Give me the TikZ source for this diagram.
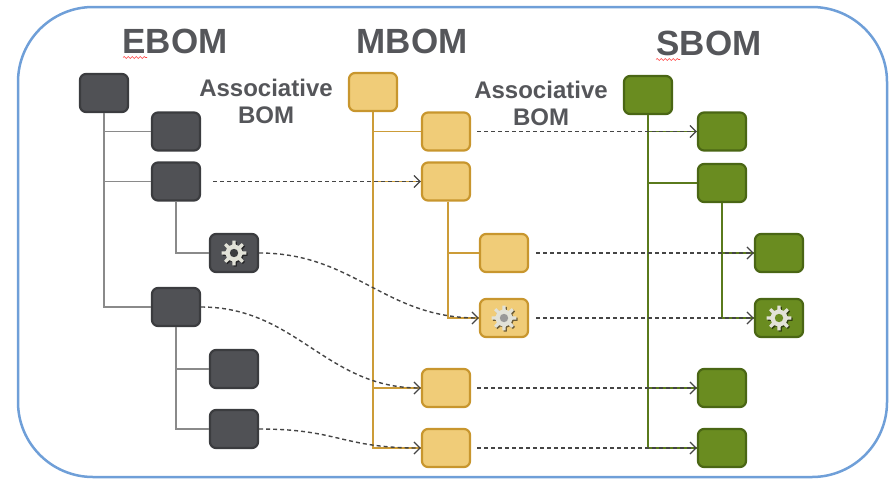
\documentclass[tikz,border=0pt]{standalone}
\usepackage{fontspec}
\setmainfont{Liberation Sans}
\usetikzlibrary{arrows.meta,calc,decorations.pathmorphing}
\definecolor{efill}{HTML}{505155}
\definecolor{edraw}{HTML}{3B3C3F}
\definecolor{mfill}{HTML}{F0CC78}
\definecolor{mdraw}{HTML}{C8962E}
\definecolor{sfill}{HTML}{6A8C20}
\definecolor{sdraw}{HTML}{4A6614}
\definecolor{etreec}{HTML}{8A8A8A}
\definecolor{mtreec}{HTML}{CC9C38}
\definecolor{streec}{HTML}{5A7A1C}
\definecolor{titlec}{HTML}{55565A}
\definecolor{framec}{HTML}{6F9FD8}
\definecolor{dashc}{HTML}{454545}
\definecolor{gearc}{HTML}{E2E2D8}
\newcommand\gearpath{({-12}:8.5) \foreach \a in {0,45,...,315}{ -- ({\a-12}:8.5) -- ({\a-7}:12.5) -- ({\a+7}:12.5) -- ({\a+12}:8.5) -- ({\a+33}:8.5)} -- cycle}
\newcommand\gearicon[2]{%
  \begin{scope}[shift={(#1.center)}]
    \fill[black,opacity=.55,shift={(1.2,1.2)}] \gearpath;
    \fill[gearc] \gearpath;
    \fill[#2] (0,0) circle (4.2);
  \end{scope}}
\begin{document}
\begin{tikzpicture}[x=1pt,y=-1pt,
  box/.style={draw, rounded corners=6pt, line width=2.2pt, minimum width=48pt, minimum height=38pt, inner sep=0pt},
  ebox/.style={box, fill=efill, draw=edraw},
  mbox/.style={box, fill=mfill, draw=mdraw},
  sbox/.style={box, fill=sfill, draw=sdraw},
  etree/.style={draw=etreec, line width=1.8pt},
  mtree/.style={draw=mtreec, line width=1.7pt},
  stree/.style={draw=streec, line width=1.5pt},
  dasharrow/.style={draw=dashc, line width=1.4pt, dash pattern=on 4pt off 3pt, -{Straight Barb[length=6pt,width=12pt,line width=1.3pt]}},
  title/.style={font=\fontsize{35}{40}\selectfont\bfseries, text=titlec, inner sep=0pt, anchor=base},
  assoc/.style={font=\fontsize{24}{27.5}\selectfont\bfseries, text=titlec, inner sep=0pt, align=center, anchor=north},
  squiggle/.style={draw=red!75, line width=0.6pt, decorate, decoration={snake, amplitude=1pt, segment length=4pt}}
]
\useasboundingbox (0,0) rectangle (893,479);
\draw[draw=framec, line width=2.5pt, rounded corners=75pt] (18,7) rectangle (887,477);

% titles
\node[title] (tE) at (175,53) {EBOM};
\node[title] (tM) at (412,53) {MBOM};
\node[title] (tS) at (709,55) {SBOM};
\draw[squiggle] (123,57.5) -- (147,57.5);
\draw[squiggle] (656,59.5) -- (680,59.5);
\node[assoc] (a1) at (266,78.5) {Associative\\BOM};
\node[assoc] (a2) at (541,80.5) {Associative\\BOM};

% EBOM
\node[ebox] (e0) at (104,93) {};
\node[ebox] (e1) at (176,131.5) {};
\node[ebox] (e2) at (176,181.5) {};
\node[ebox] (e3) at (234,253) {};
\node[ebox] (e4) at (176,307) {};
\node[ebox] (e5) at (234,369) {};
\node[ebox] (e6) at (234,429) {};

% MBOM
\node[mbox] (m0) at (373,92) {};
\node[mbox] (m1) at (446,131.5) {};
\node[mbox] (m2) at (446,181.5) {};
\node[mbox] (m3) at (504,253) {};
\node[mbox] (m4) at (504,318) {};
\node[mbox] (m5) at (446,388) {};
\node[mbox] (m6) at (446,448) {};

% SBOM
\node[sbox] (s0) at (648,95) {};
\node[sbox] (s1) at (722,131.5) {};
\node[sbox] (s2) at (722,183) {};
\node[sbox] (s3) at (779,253) {};
\node[sbox] (s4) at (779,318) {};
\node[sbox] (s5) at (722,388) {};
\node[sbox] (s6) at (722,448) {};

% trees
\draw[etree] (e0.south) |- (e1.west);
\draw[etree] (e0.south) |- (e2.west);
\draw[etree] (e0.south) |- (e4.west);
\draw[etree] (e2.south) |- (e3.west);
\draw[etree] (e4.south) |- (e5.west);
\draw[etree] (e4.south) |- (e6.west);

\draw[mtree] (m0.south) |- (m1.west);
\draw[mtree] (m0.south) |- (m2.west);
\draw[mtree] (m0.south) |- (m5.west);
\draw[mtree] (m0.south) |- (m6.west);
\draw[mtree] ([xshift=2pt]m2.south) |- (m3.west);
\draw[mtree] ([xshift=2pt]m2.south) |- (m4.west);

\draw[stree] (s0.south) |- (s1.west);
\draw[stree] (s0.south) |- (s2.west);
\draw[stree] (s0.south) |- (s5.west);
\draw[stree] (s0.south) |- (s6.west);
\draw[stree] (s2.south) |- (s3.west);
\draw[stree] (s2.south) |- (s4.west);

% gears
\gearicon{e3}{edraw}
\gearicon{m4}{black!40}
\gearicon{s4}{sfill}

% associations
\draw[dasharrow, shorten <=12pt] (e2.east) -- (m2.west);
\draw[dasharrow] (e3.east) .. controls +(95,0) and +(-95,0) .. (m4.west);
\draw[dasharrow] (e4.east) .. controls +(95,0) and +(-95,0) .. (m5.west);
\draw[dasharrow] (e6.east) .. controls +(80,0) and +(-80,0) .. (m6.west);
\draw[dasharrow, shorten <=6pt] (m1.east) -- (s1.west);
\draw[dasharrow, shorten <=7pt] (m3.east) -- (s3.west);
\draw[dasharrow, shorten <=7pt] (m4.east) -- (s4.west);
\draw[dasharrow, shorten <=6pt] (m5.east) -- (s5.west);
\draw[dasharrow, shorten <=6pt] (m6.east) -- (s6.west);
\end{tikzpicture}
\end{document}
